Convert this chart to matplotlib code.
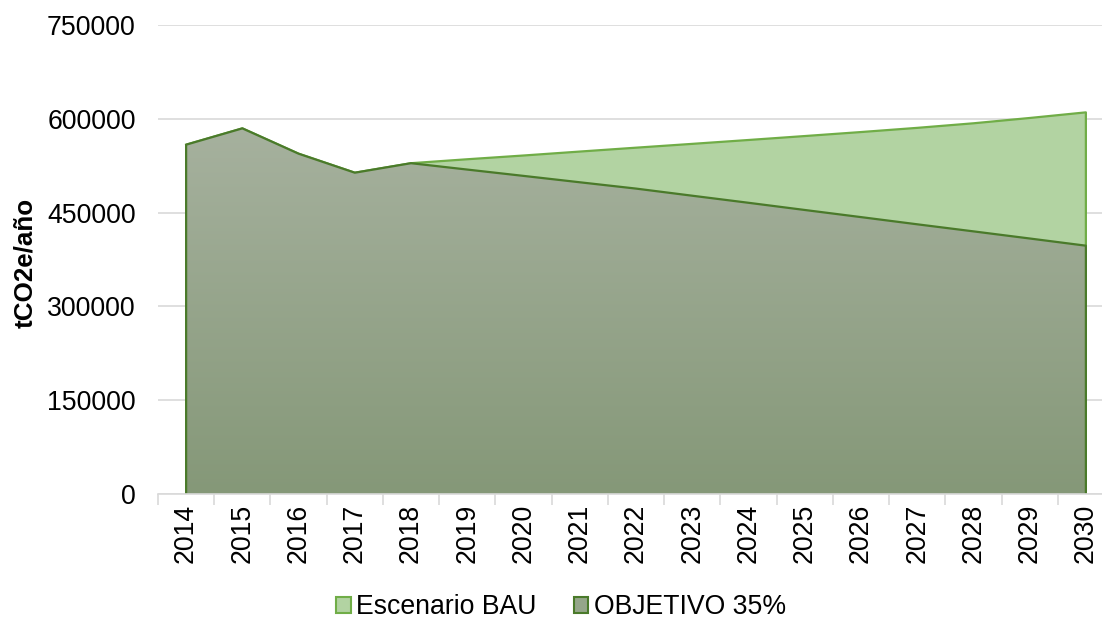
import numpy as np
import matplotlib
matplotlib.use("Agg")
import matplotlib.pyplot as plt
from matplotlib.patches import Patch
from matplotlib.colors import LinearSegmentedColormap

plt.rcParams["font.family"] = ["Liberation Sans", "DejaVu Sans"]

years = [str(y) for y in range(2014, 2031)]
bau = [558600, 584700, 544200, 513800, 529000, 535300, 541300, 547600, 553800,
       559900, 566100, 572400, 578800, 585500, 592800, 601300, 610300]
objetivo = [558600, 584700, 544200, 513800, 529000, 518800, 508700, 498500, 488400,
            477000, 465700, 454200, 442800, 431300, 420000, 408600, 397100]
yticks = [0, 150000, 300000, 450000, 600000, 750000]

fs = 19.2
fig = plt.figure(figsize=(11.02, 6.21), dpi=100)
ax = fig.add_axes([158 / 1102, 127 / 621, 956 / 1102, 469 / 621])

x = np.arange(len(years))

# BAU scenario (behind)
ax.fill_between(x, bau, 0, facecolor="#B2D3A2", edgecolor="none", zorder=2)
ax.plot(np.r_[x, x[-1]], np.r_[bau, 0], color="#70AD47", lw=1.6, zorder=3)

# objective, gradient fill
poly = ax.fill_between(x, objetivo, 0, facecolor="none", edgecolor="none", zorder=4)
cmap = LinearSegmentedColormap.from_list("obj", ["#859878", "#A6B19E"])
top = max(objetivo)
grad = np.linspace(0, 1, 256).reshape(-1, 1)
img = ax.imshow(grad, cmap=cmap, origin="lower", aspect="auto",
                extent=(x[0], x[-1], 0, top), zorder=4, interpolation="bilinear")
img.set_clip_path(poly.get_paths()[0], transform=ax.transData)
ax.plot(np.r_[x[0], x, x[-1]], np.r_[0, objetivo, 0], color="#4A7A2A", lw=1.6, zorder=5)

ax.set_xlim(-0.5, len(years) - 0.5)
ax.set_ylim(0, 750000)
ax.set_yticks(yticks)
ax.set_yticklabels([str(v) for v in yticks], fontsize=fs)
ax.grid(axis="y", color="#D9D9D9", lw=1.2, zorder=0)
ax.set_axisbelow(True)

ax.set_xticks(np.arange(len(years) + 1) - 0.5, minor=False)
ax.set_xticklabels([])
ax.set_xticks(x, minor=True)
ax.set_xticklabels(years, minor=True, rotation=90, fontsize=fs)
ax.tick_params(axis="x", which="major", length=8, color="#D9D9D9", width=1.2)
ax.tick_params(axis="x", which="minor", length=0, pad=7)
ax.tick_params(axis="y", length=0, pad=16, labelcolor="#000000")

for s in ["top", "right", "left"]:
    ax.spines[s].set_visible(False)
ax.spines["bottom"].set_color("#D9D9D9")
ax.spines["bottom"].set_linewidth(1.2)
ax.spines["bottom"].set_zorder(6)

fig.text(25 / 1102, (621 - 263) / 621, "tCO2e/año", rotation=90, ha="center",
         va="center", fontsize=fs - 0.5, fontweight="bold")

handles = [Patch(facecolor="#B2D3A2", edgecolor="#70AD47", lw=1.5, label="Escenario BAU"),
           Patch(facecolor="#95A68A", edgecolor="#4A7A2A", lw=1.5, label="OBJETIVO 35%")]
fig.legend(handles=handles, loc="center", bbox_to_anchor=(561 / 1102, (621 - 607) / 621),
           ncol=2, frameon=False, fontsize=fs, handlelength=0.55, handleheight=0.55,
           handletextpad=0.2, columnspacing=1.4, borderaxespad=0, borderpad=0)

fig.savefig("out.png", dpi=100)
